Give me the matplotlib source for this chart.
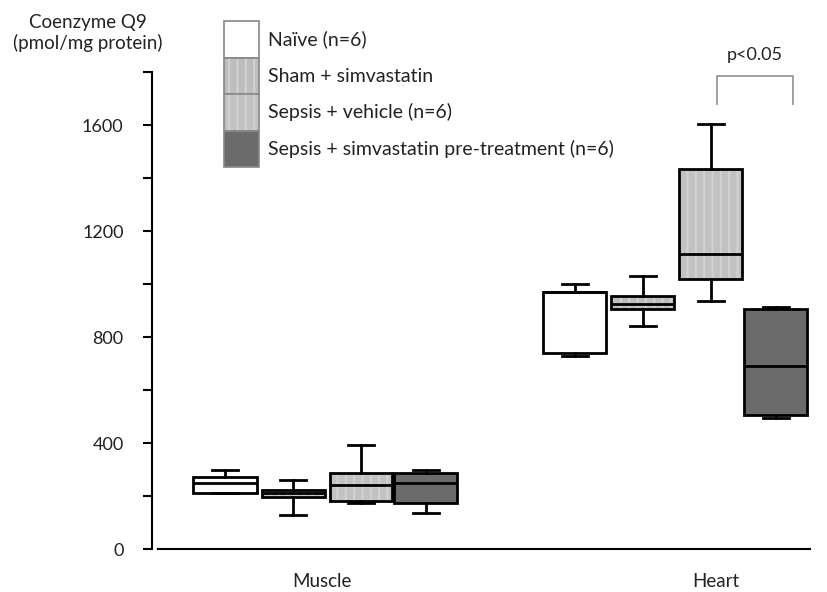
import matplotlib
matplotlib.use("Agg")
import matplotlib.pyplot as plt
from matplotlib.patches import Patch, PathPatch
from matplotlib.legend_handler import HandlerTuple

plt.rcParams['font.family'] = ['Lato', 'DejaVu Sans']
plt.rcParams['hatch.linewidth'] = 1.5

# dados (pmol/mg protein): whislo, q1, med, q3, whishi
grupos = ['Naïve (n=6)', 'Sham + simvastatin', 'Sepsis + vehicle (n=6)',
          'Sepsis + simvastatin pre-treatment (n=6)']
cores = ['white', '#bdbdbd', '#c2c2c2', '#6b6b6b']
listras = [False, True, True, False]

musculo = [[211, 213, 248, 271, 297],
           [128, 196, 210, 222, 260],
           [173, 181, 241, 286, 392],
           [136, 173, 248, 286, 297]]
coracao = [[727, 738, 968, 971, 1001],
           [840, 907, 926, 956, 1032],
           [937, 1020, 1114, 1434, 1604],
           [493, 504, 689, 907, 915]]

tecidos = ['Muscle', 'Heart']
centros_tecido = [325, 675]
desloc = [-100, -32, 36, 101]
pos_rotulos = [322, 716]

cor_listra = '#d2d2d2'
cor_texto = '#222222'

fig = plt.figure(figsize=(8.28, 5.92), dpi=100)
ax = fig.add_axes([152/828, 1-549/592, (810-152)/828, (549-72)/592])

for centro, dados in zip(centros_tecido, [musculo, coracao]):
    for i, d in enumerate(dados):
        st = dict(whislo=d[0], q1=d[1], med=d[2], q3=d[3], whishi=d[4], fliers=[])
        r = ax.bxp([st], positions=[centro + desloc[i]], widths=63, capwidths=[26],
                   patch_artist=True, showfliers=False,
                   boxprops=dict(facecolor=cores[i], edgecolor='black', linewidth=2),
                   medianprops=dict(color='black', linewidth=2),
                   whiskerprops=dict(color='black', linewidth=2),
                   capprops=dict(color='black', linewidth=2))
        if listras[i]:
            # fundo listrado por baixo da borda da caixa
            caixa = r['boxes'][0]
            caixa.set_facecolor('none')
            ax.add_patch(PathPatch(caixa.get_path(), facecolor=cores[i], hatch='||',
                                   edgecolor=cor_listra, linewidth=0,
                                   zorder=caixa.get_zorder() - 0.05))

ax.set_xlim(152, 810)
ax.set_ylim(0, 1800)
ax.set_yticks([0, 400, 800, 1200, 1600])
ax.set_yticks([200, 600, 1000, 1400, 1800], minor=True)
ax.tick_params(axis='y', which='both', direction='out', length=6.5, width=1.5,
               labelsize=13, labelcolor=cor_texto, pad=14)
ax.set_xticks(pos_rotulos)
ax.set_xticklabels(tecidos)
ax.tick_params(axis='x', length=0, labelsize=13.5, labelcolor=cor_texto, pad=17)
for s in ['top', 'right']:
    ax.spines[s].set_visible(False)
ax.spines['left'].set_linewidth(1.5)
ax.spines['bottom'].set_linewidth(1.5)
ax.spines['bottom'].set_bounds(158, 810)

# colchete de significancia
ax.plot([717, 717, 793, 793], [1679, 1785, 1785, 1679], color='#9a9a9a', lw=1.3, clip_on=False)
ax.text(755, 1835, 'p<0.05', ha='center', va='bottom', fontsize=13, color=cor_texto, clip_on=False)

fig.text(88/828, 1-33/592, 'Coenzyme Q9\n(pmol/mg protein)', ha='center', va='center',
         fontsize=13.5, color=cor_texto, linespacing=1.25)

alcas = []
for i in range(4):
    borda = Patch(fill=False, edgecolor='#888888', linewidth=1.2)
    if listras[i]:
        fundo = Patch(facecolor=cores[i], edgecolor=cor_listra, linewidth=0, hatch='||')
    else:
        fundo = Patch(facecolor=cores[i], linewidth=0)
    alcas.append((fundo, borda))
leg = fig.legend(alcas, grupos, loc='upper left', bbox_to_anchor=(224/828, 1-21/592),
                 frameon=False, fontsize=14, handlelength=1.8, handleheight=2.52,
                 labelspacing=0.0, handletextpad=0.45, borderpad=0, borderaxespad=0,
                 handler_map={tuple: HandlerTuple(ndivide=1, pad=0)})
for t in leg.get_texts():
    t.set_color(cor_texto)

fig.savefig('out.png', dpi=100)
